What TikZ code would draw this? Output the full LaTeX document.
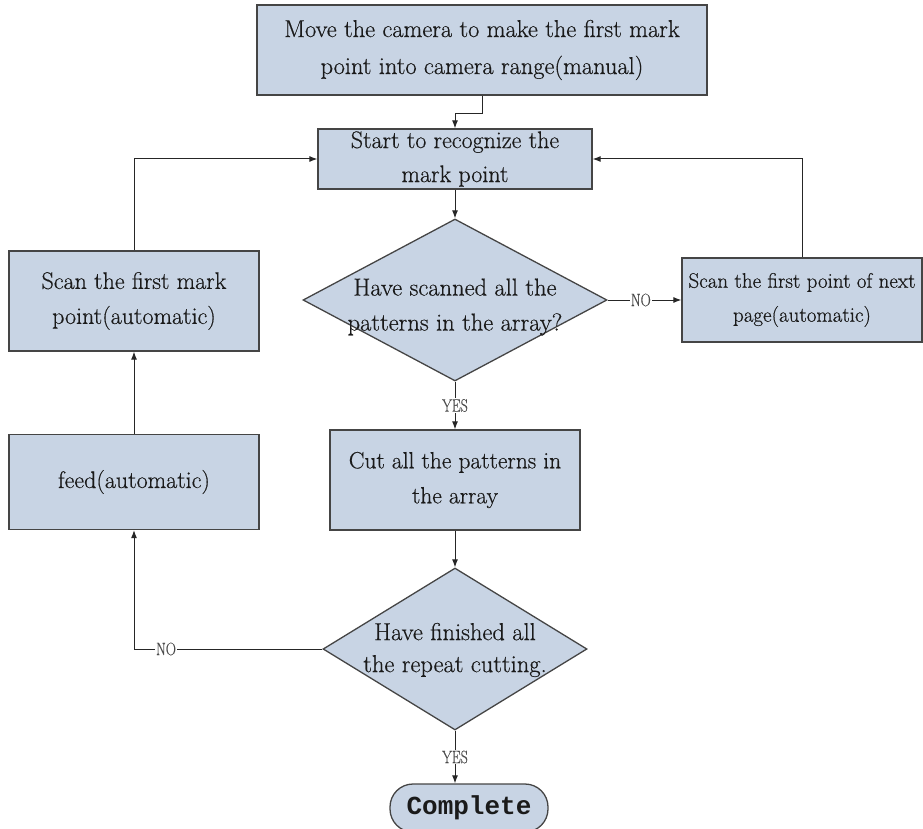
\documentclass[tikz,border=0pt]{standalone}
\usepackage{fontspec}
\setmainfont{Latin Modern Roman}[FakeBold=0.45]
\setmonofont{Liberation Mono}
\usetikzlibrary{arrows.meta,shapes.geometric}
\definecolor{boxfill}{HTML}{C8D4E4}
\definecolor{boxline}{HTML}{454545}
\definecolor{inktext}{HTML}{1A1A1A}
\newcommand\slimtext[1]{\scalebox{0.78}[1]{#1}}

\begin{document}
\begin{tikzpicture}[x=1pt,y=-1pt,>={Latex[length=8pt,width=6pt]},
 box/.style={draw=boxline,fill=boxfill,line width=1.3pt,align=center,
  inner sep=0pt,text=inktext,font=\fontsize{24}{35}\selectfont},
 decision/.style={draw=boxline,fill=boxfill,line width=1.3pt,shape=diamond,
  inner sep=0pt},
 dtext/.style={align=center,text=inktext,font=\fontsize{24.5}{35}\selectfont},
 lbl/.style={fill=white,inner sep=1pt,text=black!70,font=\fontsize{18}{18}\selectfont},
 arr/.style={->,line width=1pt,draw=black!85}]
\useasboundingbox (0,0) rectangle (923,829);
\node[box,minimum width=450,minimum height=90,font=\fontsize{24.4}{37}\selectfont] (move) at (482,50)
 {Move the camera to make the first mark\\point into camera range(manual)};
\node[box,minimum width=274,minimum height=60,font=\fontsize{24}{34}\selectfont] (start) at (455,159)
 {Start to recognize the\\mark point};
\node[decision,minimum width=304,minimum height=162] (scanned) at (455,300) {};
\node[dtext] at (455,307) {Have scanned all the\\patterns in the array?};
\node[box,minimum width=240,minimum height=84,font=\fontsize{21}{34}\selectfont] (nextpage) at (802,300)
 {Scan the first point of next\\page(automatic)};
\node[box,minimum width=250,minimum height=100] (firstmark) at (134,301)
 {Scan the first mark\\point(automatic)};
\node[box,minimum width=250,minimum height=95] (feed) at (134,482)
 {feed(automatic)};
\node[box,minimum width=250,minimum height=100,font=\fontsize{23.5}{35}\selectfont] (cut) at (455,480)
 {Cut all the patterns in\\the array};
\node[decision,minimum width=264,minimum height=162] (finished) at (455,649) {};
\node[dtext,font=\fontsize{24.5}{32}\selectfont] at (455,650) {Have finished all\\the repeat cutting.};
\node[box,rounded corners=23pt,minimum width=158,minimum height=48,
 font=\fontsize{26}{26}\selectfont\ttfamily\bfseries] (done) at (469,808) {Complete};

\draw[arr] (move.south) -- ++(0,18) -| (start.north);
\draw[arr] (start.south) -- (scanned.north);
\draw[arr] (scanned.east) -- node[lbl,pos=0.45]{\slimtext{NO}} (nextpage.west);
\draw[arr] (nextpage.north) |- (start.east);
\draw[arr] (firstmark.north) |- (start.west);
\draw[arr] (feed.north) -- (firstmark.south);
\draw[arr] (scanned.south) -- node[lbl]{\slimtext{YES}} (cut.north);
\draw[arr] (cut.south) -- (finished.north);
\draw[arr] (finished.west) -| node[lbl,pos=0.415]{\slimtext{NO}} (feed.south);
\draw[arr] (finished.south) -- node[lbl]{\slimtext{YES}} (done.north -| finished.south);
\end{tikzpicture}
\end{document}
